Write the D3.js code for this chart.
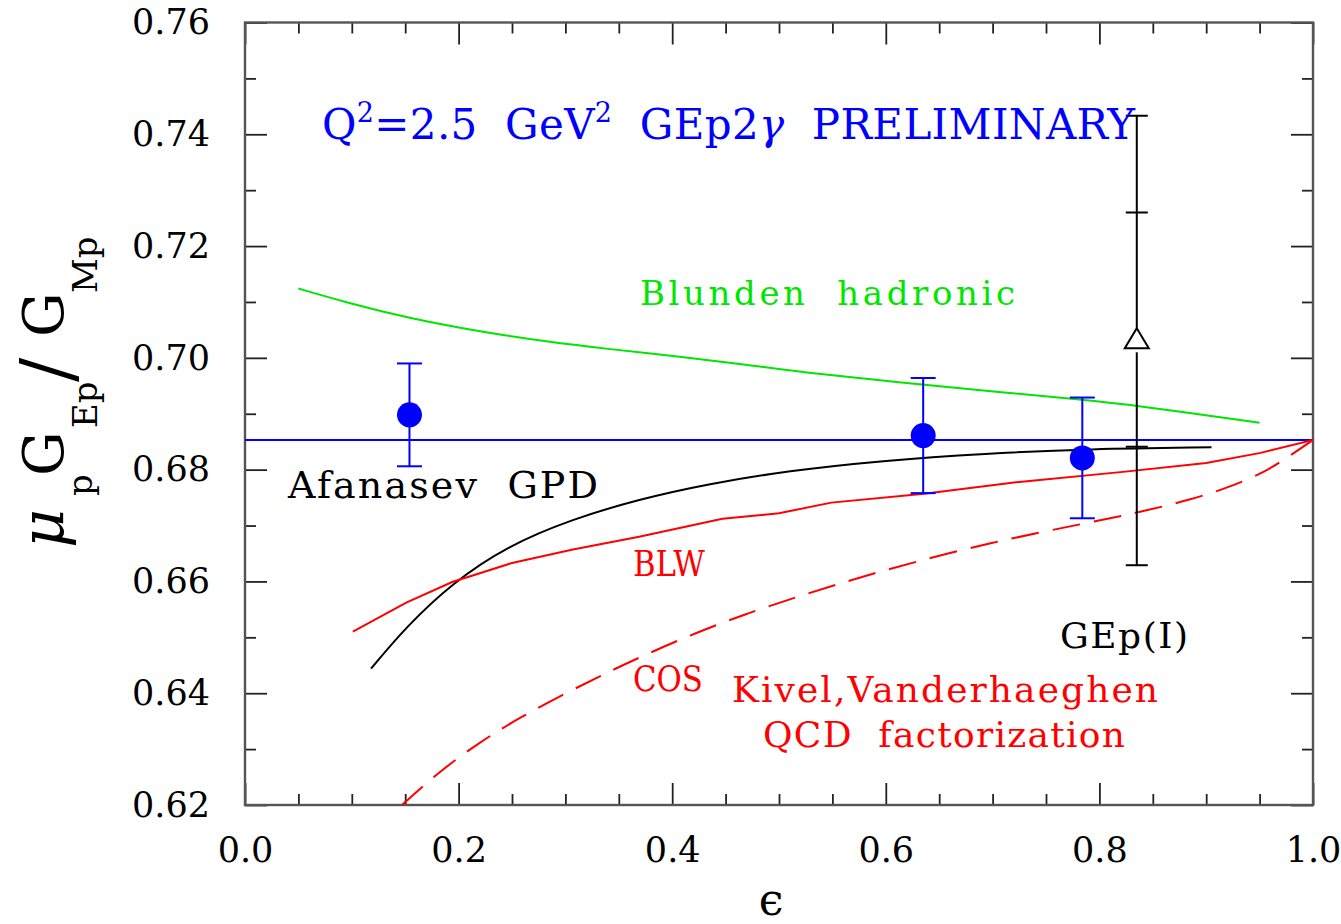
<!DOCTYPE html>
<html>
<head>
<meta charset="utf-8">
<script src="https://cdn.jsdelivr.net/npm/d3@7"></script>
<style>
  html, body { margin: 0; padding: 0; background: #fff; }
  svg { display: block; }
  text { font-family: 'DejaVu Serif', serif; white-space: pre; }
</style>
</head>
<body>
<svg id="chart" width="1341" height="924"></svg>
<script>
// ---- axis ticks ----
const xMajorTicks = [0.0, 0.2, 0.4, 0.6, 0.8, 1.0];
const xTickLabels = ["0.0", "0.2", "0.4", "0.6", "0.8", "1.0"];
const yMajorTicks = [0.62, 0.64, 0.66, 0.68, 0.70, 0.72, 0.74, 0.76];
const yTickLabels = ["0.62", "0.64", "0.66", "0.68", "0.70", "0.72", "0.74", "0.76"];

// ---- GEp2gamma data (epsilon, ratio, error) ----
const gep2gEps = [0.154, 0.635, 0.784];
const gep2gRatio = [0.6898, 0.6861, 0.6821];
const gep2gErr = [0.0092, 0.0103, 0.0108];

// ---- GEp(I) point: value with stat and total errors ----
const gepIEps = [0.835];
const gepIRatio = [0.7035];
const gepIStatPlus = [0.0225];
const gepIStatMinus = [0.0194];
const gepITotPlus = [0.0398];
const gepITotMinus = [0.0406];

// ---- reference level (GEp(I) fit at this Q^2) ----
const refLevel = 0.6853;

// ---- Blunden hadronic ----
const blundenEps = [0.050, 0.095, 0.151, 0.220, 0.282, 0.344, 0.407, 0.469, 0.519, 0.612, 0.706, 0.784, 0.830, 0.950];
const blundenRatio = [0.7124, 0.7099, 0.7072, 0.7047, 0.7029, 0.7015, 0.7002, 0.6988, 0.6975, 0.6956, 0.6939, 0.6925, 0.6916, 0.6884];

// ---- Afanasev GPD ----
const afanasevEps = [0.118, 0.151, 0.194, 0.245, 0.307, 0.369, 0.432, 0.509, 0.596, 0.693, 0.790, 0.905];
const afanasevRatio = [0.6444, 0.6519, 0.6597, 0.6663, 0.6712, 0.6747, 0.6774, 0.6798, 0.6816, 0.6829, 0.6837, 0.6840];

// ---- Kivel, Vanderhaeghen: BLW ----
const blwEps = [0.101, 0.151, 0.194, 0.250, 0.307, 0.369, 0.447, 0.500, 0.549, 0.636, 0.725, 0.822, 0.900, 0.951, 1.000];
const blwRatio = [0.6510, 0.6562, 0.6599, 0.6633, 0.6657, 0.6680, 0.6712, 0.6722, 0.6741, 0.6757, 0.6778, 0.6796, 0.6812, 0.6830, 0.6853];

// ---- Kivel, Vanderhaeghen: COS ----
const cosEps = [0.147, 0.180, 0.220, 0.257, 0.297, 0.338, 0.376, 0.422, 0.469, 0.516, 0.593, 0.700, 0.790, 0.838, 0.887, 0.919, 0.951, 0.970, 1.000];
const cosRatio = [0.6200, 0.6257, 0.6313, 0.6356, 0.6397, 0.6436, 0.6470, 0.6508, 0.6542, 0.6572, 0.6618, 0.6671, 0.6705, 0.6724, 0.6747, 0.6767, 0.6792, 0.6814, 0.6853];

// ---- layout ----
const L = 245, R = 1313, T = 22.5, B = 805;
const x = d3.scaleLinear().domain([0, 1]).range([L, R]);
const y = d3.scaleLinear().domain([0.62, 0.76]).range([B, T]);

const svg = d3.select("#chart");

const xMinorTicks = d3.range(0, 1.0001, 0.05).map(v => +v.toFixed(2)).filter(v => !xMajorTicks.some(m => Math.abs(m - v) < 1e-6));
const yMinorTicks = d3.range(0.62, 0.7601, 0.01).map(v => +v.toFixed(2)).filter(v => !yMajorTicks.some(m => Math.abs(m - v) < 1e-6));

const MAJ = 22, MIN = 11;
const tickColor = "#222", tickWidth = 1.8;

function styleAxis(g) {
  g.select(".domain").remove();
  g.selectAll(".tick line").attr("stroke", tickColor).attr("stroke-width", tickWidth);
  g.selectAll(".tick text").attr("fill", "#000").attr("font-family", "'DejaVu Serif', serif").attr("font-size", 35);
}

// bottom axis: majors with labels, minors without
svg.append("g").attr("transform", `translate(0,${B})`)
  .call(d3.axisBottom(x).tickValues(xMajorTicks).tickSize(-MAJ).tickSizeOuter(0).tickPadding(32)
    .tickFormat((d, i) => xTickLabels[i]))
  .call(styleAxis);
svg.append("g").attr("transform", `translate(0,${B})`)
  .call(d3.axisBottom(x).tickValues(xMinorTicks).tickSize(-MIN).tickSizeOuter(0).tickFormat(""))
  .call(styleAxis);
// top axis
svg.append("g").attr("transform", `translate(0,${T})`)
  .call(d3.axisTop(x).tickValues(xMajorTicks).tickSize(-MAJ).tickSizeOuter(0).tickFormat(""))
  .call(styleAxis);
svg.append("g").attr("transform", `translate(0,${T})`)
  .call(d3.axisTop(x).tickValues(xMinorTicks).tickSize(-MIN).tickSizeOuter(0).tickFormat(""))
  .call(styleAxis);
// left axis
svg.append("g").attr("transform", `translate(${L},0)`)
  .call(d3.axisLeft(y).tickValues(yMajorTicks).tickSize(-MAJ).tickSizeOuter(0).tickPadding(35)
    .tickFormat((d, i) => yTickLabels[i]))
  .call(styleAxis);
svg.append("g").attr("transform", `translate(${L},0)`)
  .call(d3.axisLeft(y).tickValues(yMinorTicks).tickSize(-MIN).tickSizeOuter(0).tickFormat(""))
  .call(styleAxis);
// right axis
svg.append("g").attr("transform", `translate(${R},0)`)
  .call(d3.axisRight(y).tickValues(yMajorTicks).tickSize(-MAJ).tickSizeOuter(0).tickFormat(""))
  .call(styleAxis);
svg.append("g").attr("transform", `translate(${R},0)`)
  .call(d3.axisRight(y).tickValues(yMinorTicks).tickSize(-MIN).tickSizeOuter(0).tickFormat(""))
  .call(styleAxis);

// frame
svg.append("rect")
  .attr("x", L).attr("y", T).attr("width", R - L).attr("height", B - T)
  .attr("fill", "none").attr("stroke", "#555").attr("stroke-width", 2.4);

// plot contents clipped to the frame
svg.append("clipPath").attr("id", "plotclip")
  .append("rect").attr("x", L).attr("y", T).attr("width", R - L).attr("height", B - T);
const plot = svg.append("g").attr("clip-path", "url(#plotclip)");

const zip = (a, b) => a.map((v, i) => [v, b[i]]);
const smooth = d3.line().x(d => x(d[0])).y(d => y(d[1])).curve(d3.curveBasis);
const straight = d3.line().x(d => x(d[0])).y(d => y(d[1]));

// reference level
plot.append("line")
  .attr("x1", x(0)).attr("x2", x(1)).attr("y1", y(refLevel)).attr("y2", y(refLevel))
  .attr("stroke", "#0000ff").attr("stroke-width", 2);

// theory curves
plot.append("path").attr("d", smooth(zip(blundenEps, blundenRatio)))
  .attr("fill", "none").attr("stroke", "#00e600").attr("stroke-width", 2);
plot.append("path").attr("d", smooth(zip(afanasevEps, afanasevRatio)))
  .attr("fill", "none").attr("stroke", "#000").attr("stroke-width", 2);
plot.append("path").attr("d", straight(zip(blwEps, blwRatio)))
  .attr("fill", "none").attr("stroke", "#ff0000").attr("stroke-width", 2);
plot.append("path").attr("d", smooth(zip(cosEps, cosRatio)))
  .attr("fill", "none").attr("stroke", "#ff0000").attr("stroke-width", 2)
  .attr("stroke-dasharray", "28,14");

// GEp(I) point with stat (inner ticks) and total (outer caps) errors
const triW = 24, triH = 20;
gepIEps.forEach((e, i) => {
  const cx = x(e), cy = y(gepIRatio[i]);
  const g = plot.append("g").attr("stroke", "#000").attr("stroke-width", 2).attr("fill", "none");
  const top = y(gepIRatio[i] + gepITotPlus[i]);
  const bot = y(gepIRatio[i] - gepITotMinus[i]);
  g.append("line").attr("x1", cx).attr("x2", cx).attr("y1", top).attr("y2", cy - triH / 2);
  g.append("line").attr("x1", cx).attr("x2", cx).attr("y1", cy + triH / 2 + 4).attr("y2", bot);
  [top, bot, y(gepIRatio[i] + gepIStatPlus[i]), y(gepIRatio[i] - gepIStatMinus[i])].forEach(yy => {
    g.append("line").attr("x1", cx - 11).attr("x2", cx + 11).attr("y1", yy).attr("y2", yy);
  });
  g.append("path")
    .attr("d", `M${cx},${cy - triH / 2}L${cx + triW / 2},${cy + triH / 2}L${cx - triW / 2},${cy + triH / 2}Z`)
    .attr("fill", "#fff");
});

// GEp2gamma points
gep2gEps.forEach((e, i) => {
  const cx = x(e);
  const g = plot.append("g").attr("stroke", "#0000ff").attr("stroke-width", 2);
  const top = y(gep2gRatio[i] + gep2gErr[i]), bot = y(gep2gRatio[i] - gep2gErr[i]);
  g.append("line").attr("x1", cx).attr("x2", cx).attr("y1", top).attr("y2", bot);
  g.append("line").attr("x1", cx - 12.5).attr("x2", cx + 12.5).attr("y1", top).attr("y2", top);
  g.append("line").attr("x1", cx - 12.5).attr("x2", cx + 12.5).attr("y1", bot).attr("y2", bot);
  g.append("circle").attr("cx", cx).attr("cy", y(gep2gRatio[i])).attr("r", 12.5)
    .attr("fill", "#0000ff").attr("stroke", "none");
});

// ---- annotations ----
// fit a text between x0 and x1: widen letter spacing if short, squeeze glyphs if long
function fitText(t, x0, x1) {
  const want = x1 - x0;
  const have = t.node().getComputedTextLength();
  t.attr("textLength", want).attr("lengthAdjust", have > want ? "spacingAndGlyphs" : "spacing");
  return t;
}
function label(txt, x0, base, x1, size, color) {
  const t = svg.append("text").attr("x", x0).attr("y", base)
    .attr("font-size", size).attr("fill", color).text(txt);
  return fitText(t, x0, x1);
}

// heading
const head = svg.append("text").attr("x", 322).attr("y", 139)
  .attr("font-size", 42).attr("fill", "#0000ff");
head.append("tspan").text("Q");
head.append("tspan").attr("font-size", 27).attr("dy", -17).text("2");
head.append("tspan").attr("dy", 17).text("=2.5  GeV");
head.append("tspan").attr("font-size", 27).attr("dy", -17).text("2");
head.append("tspan").attr("dy", 17).text("  GEp2");
head.append("tspan").attr("font-style", "italic").text("γ");
head.append("tspan").text("  PRELIMINARY");
fitText(head, 322, 1135);

label("Blunden  hadronic", 640, 305, 1015, 34, "#00e600");
label("Afanasev  GPD", 288, 498, 598, 38, "#000");
label("BLW", 633, 576, 705, 36, "#ff0000");
label("COS", 633, 691, 703, 36, "#ff0000");
label("Kivel,Vanderhaeghen", 732, 702, 1158, 36, "#ff0000");
label("QCD  factorization", 763, 747, 1125, 36, "#ff0000");
label("GEp(I)", 1060, 648, 1188, 36, "#000");

// x axis title
svg.append("text").attr("x", 771).attr("y", 915).attr("text-anchor", "middle")
  .attr("font-size", 44).attr("fill", "#000")
  .text("ϵ");

// y axis title, rotated; pieces placed along the vertical baseline
const yt = svg.append("g").attr("transform", "rotate(-90)");
function piece(txt, bottomY, baseX, size, italic) {
  const t = yt.append("text").attr("x", -bottomY).attr("y", baseX)
    .attr("font-size", size).attr("fill", "#000").text(txt);
  if (italic) t.attr("font-style", "italic");
  return t;
}
piece("μ", 548, 64, 60, true);
piece("p", 496, 92, 34, false);
piece("G", 476, 63, 56, false);
piece("Ep", 428, 97, 34, false);
piece("/", 382, 72, 72, false);
piece("G", 337, 63, 56, false);
piece("Mp", 293, 97, 34, false);
</script>
</body>
</html>
